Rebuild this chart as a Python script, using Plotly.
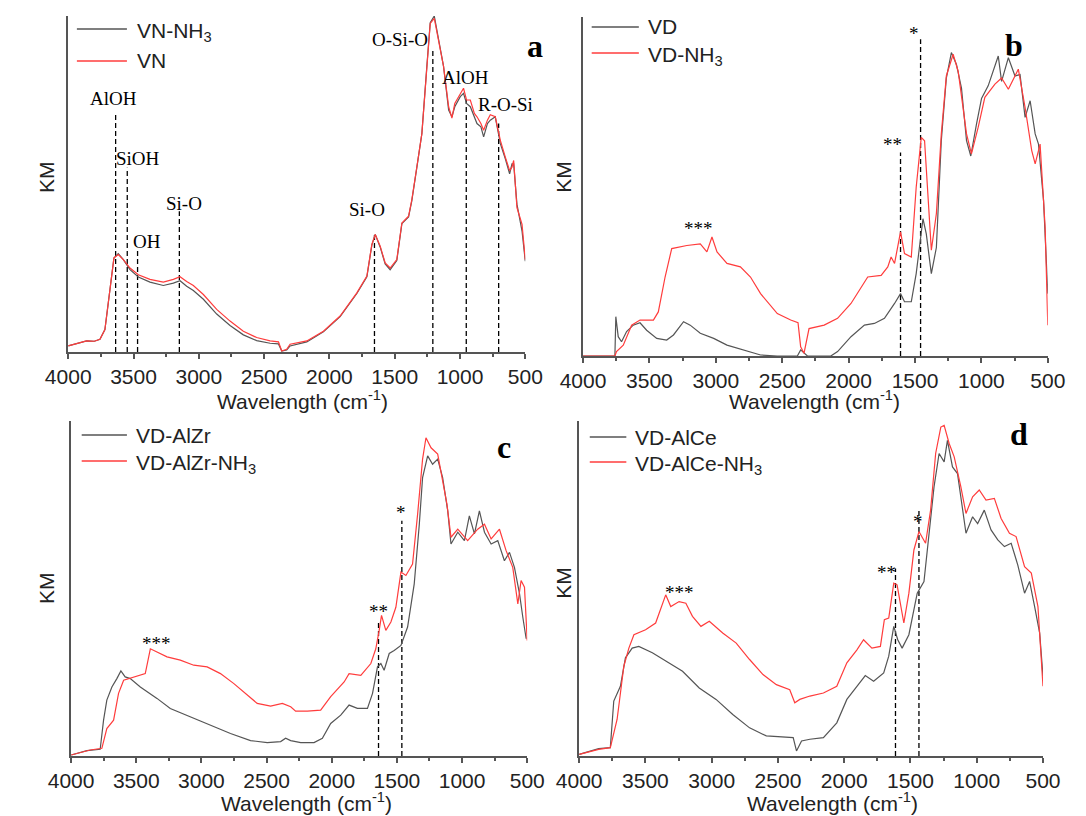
import plotly.graph_objects as go

# ---------------- data ----------------
# Panel a
a_wn_gray = [4000,3930,3859,3800,3757,3719,3681,3650,3617,3578,3527,3463,3374,3272,3195,3144,3093,3042,2965,2863,2761,2659,2557,2454,2390,2365,2327,2301,2173,2046,1918,1790,1713,1675,1649,1611,1573,1535,1484,1445,1394,1369,1330,1292,1253,1228,1197,1164,1126,1087,1062,1040,1024,998,973,950,921,890,870,840,819,790,768,730,691,653,620,602,589,564,525,500]
a_km_gray = [1.8,2.6,3.3,3.2,3.8,6.7,17.6,28,29.3,27.5,24.5,22.3,20.8,19.8,20.5,21.2,19.6,18.3,15.7,11.3,7.9,5.1,3.4,2.6,2.4,0.3,0.6,1.8,3.0,6.0,10.5,17.4,22.4,31.8,35,31.2,26.2,24.5,27.2,38.2,40.2,45,55,65,85.5,98,100,93.5,85,72,70,73,74,76,77,74,73,70,68,67,64,68,69,70,62,57.5,53,56,56,44,36,27]
a_wn_red = [4000,3930,3859,3800,3757,3719,3681,3650,3617,3578,3527,3463,3374,3272,3195,3144,3093,3042,2965,2863,2761,2659,2557,2454,2390,2365,2327,2301,2173,2046,1918,1790,1713,1675,1649,1611,1573,1535,1484,1445,1394,1369,1330,1292,1253,1228,1197,1164,1126,1087,1062,1040,1024,998,973,950,921,890,870,840,819,790,768,730,691,653,620,602,589,564,525,500]
a_km_red = [1.8,2.6,3.3,3.2,3.8,6.7,17.6,28,29,27.5,25,23,21.6,20.8,21.6,22.4,21,19.8,17.1,12.7,9.2,6.2,4.3,3.3,3.0,0.3,0.8,2.3,3.3,6.2,10.7,17.6,22.6,32,35,31.5,26.5,25,27.5,38.4,40.4,45.3,55.2,65,85,97.8,99.3,93,85,73,69.6,74,75,77,78.5,75,75,71,70,68,66,69,70.6,70,63,58,54,55,57,43,38,27.5]

# Panel b
b_wn_gray = [4000,3760,3753,3735,3710,3672,3622,3571,3521,3445,3370,3319,3243,3193,3117,3016,2916,2789,2663,2537,2386,2361,2310,2134,2083,1982,1881,1806,1730,1654,1609,1579,1528,1491,1440,1415,1377,1339,1302,1264,1226,1188,1150,1112,1080,1037,999,949,873,848,797,747,709,671,633,595,570,532,500]
b_km_gray = [0,0,11.6,5.7,4.2,7.2,9.1,9.8,7.6,5.2,4.7,6.2,10.1,9.1,6.7,5.2,3.2,1.8,0.3,0,0,1.8,0,0,1.3,5.7,9.1,9.6,11.1,15.5,18.4,16,16,24.3,40.5,36,24.3,32,63.5,82,89.5,86,79,63.5,59,68.4,76,79.7,88.5,81,88,82.6,83,70.4,75.3,65.5,62.5,45.9,18.4]
b_wn_red = [4000,3760,3748,3697,3634,3571,3470,3433,3382,3332,3218,3117,3067,3029,2991,2916,2815,2739,2663,2537,2436,2381,2361,2336,2298,2184,2083,1982,1856,1755,1705,1680,1654,1609,1579,1528,1491,1453,1428,1377,1339,1302,1264,1213,1175,1112,1075,1024,974,898,848,797,722,671,621,595,558,520,500]
b_km_red = [0,0,1.3,3.2,9.1,10.6,10.6,13,23.3,31.7,32.6,33.1,30.7,35.1,30.7,27.3,26.3,23.3,18.4,12.5,10.6,9.8,2.7,0.8,8.1,9.1,11.1,15.5,23.3,23.8,26.3,29.2,27.3,36.6,30.2,29.2,49.8,64.5,63.5,31.2,42,65.5,82.6,89,84,65.5,59.6,67.5,76.3,80.2,82,78.7,84.6,73.3,60.6,56.7,62.5,38,9.1]

# Panel c
c_wn_gray = [4000,3879,3777,3751,3726,3687,3649,3618,3585,3546,3469,3341,3239,3085,2931,2777,2623,2495,2392,2354,2315,2238,2136,2072,2008,1931,1867,1803,1726,1687,1649,1623,1598,1559,1521,1469,1418,1367,1328,1303,1264,1226,1187,1149,1110,1085,1033,982,944,905,867,828,777,726,675,636,598,559,534,508]
c_km_gray = [0.3,1.6,2,10.7,16.7,20.6,23.1,25.4,23.6,23.1,20.6,17.2,14.2,11.7,9.2,6.7,4.6,4,4.3,5.3,4.6,4,4,5.3,9.7,12.2,15.2,14.2,14.2,18.7,26.6,27.6,25.6,30.6,31.5,33,38.5,51.4,69.2,83.1,89.6,87.1,88.6,83.1,73.2,63.3,66.8,64.3,71.7,66.3,73.2,66.8,63.3,64.3,58.3,60.8,56.3,48.4,41.5,35]
c_wn_red = [4000,3854,3764,3726,3674,3636,3597,3521,3431,3392,3341,3264,3162,3059,2956,2854,2751,2649,2572,2469,2379,2315,2277,2187,2085,2008,1905,1867,1777,1700,1662,1636,1618,1585,1546,1508,1469,1431,1380,1341,1303,1277,1238,1187,1149,1116,1085,1033,957,880,828,777,713,662,611,572,547,521,500]
c_km_red = [0.3,1.8,2.3,8.2,10.7,18.7,22.6,23.6,24.6,32,31,29.6,28.6,27.1,26.6,24.6,21.6,18.2,15.7,14.9,15.7,14.7,13.4,13.4,13.7,17.7,22.1,24.6,24.1,27.6,32,37.5,42,37.5,40,44.4,54.9,53.9,57.3,72.2,88.6,95,92,90.1,82.1,75.2,65.3,67.7,64.3,67.7,69.2,64.8,67.7,61.3,56.3,45.4,52.4,50.4,34.5]

# Panel d
d_wn_gray = [4000,3853,3765,3739,3689,3651,3600,3550,3448,3347,3220,3094,2967,2841,2714,2588,2487,2385,2360,2322,2259,2157,2056,1980,1904,1841,1778,1702,1664,1626,1596,1563,1512,1449,1398,1360,1322,1284,1246,1221,1183,1145,1107,1081,1031,993,943,892,841,791,740,690,639,601,563,525,500]
d_km_gray = [0.5,2.2,2.5,16.4,20.8,29.3,32.2,32.7,30.8,28.3,25.3,20.3,16.9,12.4,8.4,6,5.8,5.5,1.5,4.5,5,5.5,9.9,16.9,20.8,24,22.3,24.8,29.8,38.7,34.7,32.2,36.2,48.6,52.1,66.5,80.4,90.3,87.8,94.2,86.3,84.3,73.4,66.5,71.4,69.4,73.4,67.5,64.5,62.5,63.5,57,48.6,52.1,44.6,36.7,23.8]
d_wn_red = [4000,3853,3765,3714,3663,3625,3587,3499,3423,3347,3309,3246,3195,3145,3081,3018,2917,2815,2714,2613,2512,2411,2373,2335,2259,2157,2056,1980,1904,1854,1791,1727,1697,1664,1626,1601,1550,1512,1474,1436,1386,1348,1310,1271,1246,1208,1170,1120,1081,1031,981,930,867,816,753,703,639,588,538,500]
d_km_red = [0.5,2,2.5,10.9,26.8,32.2,36.2,37.7,39.7,48.1,44.6,46.1,45.6,41.7,38.7,40.2,36.7,33.7,28.8,24.3,21.3,19.8,15.9,16.9,17.9,18.8,20.8,27.8,31.7,34.7,32.2,32.7,40.7,41.2,51.6,51.1,39.7,48.6,61.5,67,63.5,73.4,90.3,98.2,98.7,93.3,89.3,80.4,72.4,77.4,79.4,76.4,76.9,70.9,66.5,65.5,56.5,54.6,44.6,20.8]

# series names
a_names = ["VN-NH<sub>3</sub>", "VN"]
b_names = ["VD", "VD-NH<sub>3</sub>"]
c_names = ["VD-AlZr", "VD-AlZr-NH<sub>3</sub>"]
d_names = ["VD-AlCe", "VD-AlCe-NH<sub>3</sub>"]

# band markers (dashed lines) : wavenumber and top height
a_mark_wn = [3637, 3548, 3469, 3149, 1655, 1208, 952, 704]
a_mark_top = [71, 54.8, 30.5, 41.9, 35.4, 90, 76, 68]
b_mark_wn = [1609, 1458]
b_mark_top = [60, 93.4]
c_mark_wn = [1641, 1462]
c_mark_top = [40.5, 70.2]
d_mark_wn = [1613, 1436]
d_mark_top = [56, 74]

# band labels
a_lab_text = ["AlOH", "SiOH", "OH", "Si-O", "Si-O", "O-Si-O", "AlOH", "R-O-Si"]
a_lab_wn = [3655, 3463, 3400, 3113, 1713, 1458, 960, 653]
a_lab_km = [75.5, 57.7, 33, 44.2, 42.4, 93, 81.8, 73.8]
b_lab_text = ["***", "**", "*"]
b_lab_wn = [3130, 1670, 1508]
b_lab_km = [37.5, 62.5, 95]
c_lab_text = ["***", "**", "*"]
c_lab_wn = [3341, 1641, 1469]
c_lab_km = [33.5, 43, 72.7]
d_lab_text = ["***", "**", "*"]
d_lab_wn = [3246, 1682, 1444]
d_lab_km = [48.8, 54.8, 70]

x_ticks = [4000, 3500, 3000, 2500, 2000, 1500, 1000, 500]

# ---------------- figure ----------------
W, H = 1086, 816
GRAY = "#555555"
RED = "#ff3c3c"
SANS = "Liberation Sans, Arial, sans-serif"
SERIF = "Liberation Serif, Times New Roman, serif"

# pixel boxes (left, right, top, bottom)
boxes = {
    1: (47, 522, 16, 352),
    2: (582, 1065, 17, 356),
    3: (50, 524, 421, 756),
    4: (578, 1060, 421, 756),
}

fig = go.Figure()

panels = [
    (1, a_wn_gray, a_km_gray, a_wn_red, a_km_red, a_names, a_mark_wn, a_mark_top, a_lab_text, a_lab_wn, a_lab_km),
    (2, b_wn_gray, b_km_gray, b_wn_red, b_km_red, b_names, b_mark_wn, b_mark_top, b_lab_text, b_lab_wn, b_lab_km),
    (3, c_wn_gray, c_km_gray, c_wn_red, c_km_red, c_names, c_mark_wn, c_mark_top, c_lab_text, c_lab_wn, c_lab_km),
    (4, d_wn_gray, d_km_gray, d_wn_red, d_km_red, d_names, d_mark_wn, d_mark_top, d_lab_text, d_lab_wn, d_lab_km),
]

# hand-placed legend keys: (line x0, line x1, text x, y of first row, y of second row) in px
legend_geo = {1: (56, 108, 116, 29, 61), 2: (591, 640, 647, 27, 53),
              3: (61, 108, 115, 435, 461), 4: (589, 627, 634, 437, 462)}

annotations = []
shapes = []
for (i, wg, kg, wr, kr, names, mw, mt, lt, lw, lk) in panels:
    xa = "x" if i == 1 else f"x{i}"
    ya = "y" if i == 1 else f"y{i}"
    # dashed marker lines
    for w, t in zip(mw, mt):
        fig.add_trace(go.Scatter(x=[w, w], y=[0, t], mode="lines", xaxis=xa, yaxis=ya,
                                 line=dict(color="black", width=1.3, dash="5px,3px"),
                                 showlegend=False, hoverinfo="skip"))
    fig.add_trace(go.Scatter(x=wg, y=kg, mode="lines", name=names[0], xaxis=xa, yaxis=ya,
                             line=dict(color=GRAY, width=1.2), showlegend=False))
    fig.add_trace(go.Scatter(x=wr, y=kr, mode="lines", name=names[1], xaxis=xa, yaxis=ya,
                             line=dict(color=RED, width=1.2), showlegend=False))
    for t, w, k in zip(lt, lw, lk):
        annotations.append(dict(text=t, x=w, y=k, xref=xa, yref=ya, showarrow=False,
                                xanchor="center", yanchor="middle",
                                font=dict(family=SERIF, size=19, color="black")))
    # legend keys
    x0, x1, tx, y1, y2 = legend_geo[i]
    for name, col, yy in zip(names, [GRAY, RED], [y1, y2]):
        shapes.append(dict(type="line", xref="paper", yref="paper", x0=x0 / W, x1=x1 / W,
                           y0=1 - yy / H, y1=1 - yy / H, line=dict(color=col, width=1.5)))
        off = 3 if "<sub>" in name else 0
        annotations.append(dict(text=name, x=tx / W, y=1 - (yy + off) / H, xref="paper", yref="paper",
                                showarrow=False, xanchor="left", yanchor="middle",
                                font=dict(family=SANS, size=21, color="#222")))

layout = dict(width=W, height=H, margin=dict(l=0, r=0, t=0, b=0),
              paper_bgcolor="white", plot_bgcolor="white", showlegend=False)

for i, (l, r, t, b) in boxes.items():
    xk = "xaxis" if i == 1 else f"xaxis{i}"
    yk = "yaxis" if i == 1 else f"yaxis{i}"
    ya = "y" if i == 1 else f"y{i}"
    xa = "x" if i == 1 else f"x{i}"
    layout[xk] = dict(domain=[l / W, r / W], anchor=ya, range=[4000, 500], autorange=False,
                      tickvals=x_ticks, ticks="outside", ticklen=5, tickwidth=1.5, tickcolor=GRAY,
                      showline=True, linecolor=GRAY, linewidth=1.5, showgrid=False, zeroline=False,
                      tickfont=dict(family=SANS, size=21, color="#222"),
                      minor=dict(dtick=250, tick0=0, ticks="outside", ticklen=3, tickcolor=GRAY,
                                 tickwidth=1.5, showgrid=False))
    layout[yk] = dict(domain=[1 - b / H, 1 - t / H], anchor=xa, range=[0, 100], autorange=False,
                      showline=True, linecolor=GRAY, linewidth=1.5, showgrid=False, zeroline=False,
                      showticklabels=False, ticks="")

# axis titles
km_pos = [(24, 177), (561, 177), (24, 588), (561, 583)]
for (x, y) in km_pos:
    annotations.append(dict(text="KM", x=x / W, y=1 - y / H, xref="paper", yref="paper",
                            showarrow=False, textangle=-90, xanchor="center", yanchor="middle",
                            font=dict(family=SANS, size=21, color="#222")))
# x titles: top row centred at y px, bottom row sitting on the page bottom
wl_top = [(290, 400), (823, 400)]
wl_bottom_x = [295, 841]
for (x, y) in wl_top:
    annotations.append(dict(text="Wavelength (cm<sup>-1</sup>)", x=x / W, y=1 - y / H,
                            xref="paper", yref="paper", showarrow=False,
                            xanchor="center", yanchor="middle",
                            font=dict(family=SANS, size=21, color="#222")))
for x in wl_bottom_x:
    annotations.append(dict(text="Wavelength (cm<sup>-1</sup>)", x=x / W, y=0,
                            xref="paper", yref="paper", showarrow=False,
                            xanchor="center", yanchor="bottom", borderpad=0,
                            font=dict(family=SANS, size=21, color="#222")))
# panel letters
for txt, (x, y) in zip(["a", "b", "c", "d"], [(532, 46), (1030, 45), (500, 447), (1035, 434)]):
    annotations.append(dict(text=f"<b>{txt}</b>", x=x / W, y=1 - y / H, xref="paper", yref="paper",
                            showarrow=False, xanchor="center", yanchor="middle",
                            font=dict(family=SERIF, size=32, color="black")))

layout["annotations"] = annotations
layout["shapes"] = shapes
fig.update_layout(**layout)
fig.write_html("out.html")
